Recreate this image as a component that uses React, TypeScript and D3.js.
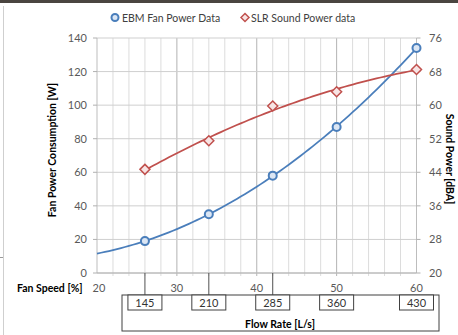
import React from "react";
import * as d3 from "d3";

const fanSpeed = [26, 34, 42, 50, 60];
const flowRate = ["145", "210", "285", "360", "430"];
const fanPower = [19, 35, 58, 87, 134];
const soundPower = [44.7, 51.5, 59.8, 63.2, 68.5];
const leftTicks = [0, 20, 40, 60, 80, 100, 120, 140];
const rightTicks = [20, 28, 36, 44, 52, 60, 68, 76];
const xTicks = [20, 30, 40, 50, 60];
const connectorCount = 3; // first three flow-rate boxes have connector lines

function quadFit(xs: number[], ys: number[]) {
  // least squares y = a + b x + c x^2
  const n = xs.length;
  let s = [0, 0, 0, 0, 0];
  let t = [0, 0, 0];
  for (let i = 0; i < n; i++) {
    const x = xs[i], y = ys[i];
    for (let k = 0; k < 5; k++) s[k] += Math.pow(x, k);
    for (let k = 0; k < 3; k++) t[k] += y * Math.pow(x, k);
  }
  const M = [
    [s[0], s[1], s[2], t[0]],
    [s[1], s[2], s[3], t[1]],
    [s[2], s[3], s[4], t[2]],
  ];
  for (let i = 0; i < 3; i++) {
    let p = i;
    for (let r = i + 1; r < 3; r++) if (Math.abs(M[r][i]) > Math.abs(M[p][i])) p = r;
    [M[i], M[p]] = [M[p], M[i]];
    for (let r = 0; r < 3; r++) {
      if (r === i) continue;
      const f = M[r][i] / M[i][i];
      for (let c = i; c < 4; c++) M[r][c] -= f * M[i][c];
    }
  }
  const a = M[0][3] / M[0][0], b = M[1][3] / M[1][1], c = M[2][3] / M[2][2];
  return (x: number) => a + b * x + c * x * x;
}

export default function App() {
  const W = 458, H = 335;
  const x0 = 97, x1 = 416.5, yTop = 38, yBot = 273;
  const x = d3.scaleLinear().domain([20, 60]).range([x0, x1]);
  const yL = d3.scaleLinear().domain([0, 140]).range([yBot, yTop]);
  const yR = d3.scaleLinear().domain([20, 76]).range([yBot, yTop]);

  const blueFit = quadFit(fanSpeed, fanPower);
  const redFit = quadFit(fanSpeed, soundPower);
  const blueXs = d3.range(20, 60.01, 0.5);
  const redXs = d3.range(fanSpeed[0], 60.01, 0.5);
  const blueLine = d3.line<number>().x((d) => x(d)).y((d) => yL(blueFit(d))).curve(d3.curveLinear)(blueXs) || "";
  const redLine = d3.line<number>().x((d) => x(d)).y((d) => yR(redFit(d)))(redXs) || "";

  const vGrid = d3.range(22, 60, 2);
  const blue = "#4A7EBB";
  const red = "#C0504D";
  const font = "Lato, 'Liberation Sans', sans-serif";
  const tickColor = "#595959";

  const boxTop = 295, boxH = 15, boxW = 34;
  const diamond = (cx: number, cy: number, r: number) =>
    `M${cx},${cy - r}L${cx + r},${cy}L${cx},${cy + r}L${cx - r},${cy}Z`;

  return (
    <svg width={W} height={H} style={{ position: "absolute", left: 0, top: 0, background: "#fff" }} fontFamily={font}>
      <rect x={0} y={0} width={W} height={3} fill="#4a4540" />
      <line x1={3.5} y1={6} x2={3.5} y2={H} stroke="#cfcfcf" />
      <line x1={0} y1={257.5} x2={3} y2={257.5} stroke="#999" />

      {/* grid */}
      {vGrid.map((g) => (
        <line key={"v" + g} x1={x(g)} x2={x(g)} y1={yTop} y2={yBot + 3}
          stroke={g % 10 === 0 ? "#b3b3b3" : "#dcdcdc"} strokeWidth={1} />
      ))}
      {leftTicks.map((t) => (
        <line key={"h" + t} x1={x0} x2={x1} y1={yL(t)} y2={yL(t)} stroke="#cfcfcf" strokeWidth={1} />
      ))}
      {/* axes */}
      <line x1={x0} x2={x0} y1={yTop} y2={yBot} stroke="#bdbdbd" />
      <line x1={x1} x2={x1} y1={yTop} y2={yBot} stroke="#bdbdbd" />
      <line x1={x0} x2={x1} y1={yBot} y2={yBot} stroke="#b0b0b0" />
      {leftTicks.map((t) => (
        <g key={"lt" + t}>
          <line x1={x0 - 4} x2={x0} y1={yL(t)} y2={yL(t)} stroke="#b0b0b0" />
          <text x={87} y={yL(t) + 4} textAnchor="end" fontSize={11} fill={tickColor}>{t}</text>
        </g>
      ))}
      {rightTicks.map((t) => (
        <g key={"rt" + t}>
          <line x1={x1} x2={x1 + 4} y1={yR(t)} y2={yR(t)} stroke="#b0b0b0" />
          <text x={429} y={yR(t) + 4} textAnchor="start" fontSize={11} fill={tickColor}>{t}</text>
        </g>
      ))}
      {xTicks.map((t) => (
        <text key={"xt" + t} x={x(t) + (t === 20 ? 2 : 0)} y={292} textAnchor="middle" fontSize={11} fill={tickColor}>{t}</text>
      ))}

      {/* axis titles */}
      <text x={17} y={292} fontSize={10.5} fontWeight="bold" fill="#000">Fan Speed [%]</text>
      <text transform={`translate(56,150) rotate(-90)`} textAnchor="middle" fontSize={10.5} fontWeight="bold" fill="#000">
        Fan Power Consumption [W]
      </text>
      <text transform={`translate(446,159) rotate(90)`} textAnchor="middle" fontSize={10.5} fontWeight="bold" fill="#000">
        Sound Power [dBA]
      </text>

      {/* flow rate table */}
      <rect x={122} y={boxTop} width={317} height={36} fill="none" stroke="#404040" strokeWidth={1} />
      {fanSpeed.map((s, i) => (
        <g key={"fr" + i}>
          {i < connectorCount && (
            <line x1={x(s)} x2={x(s)} y1={yBot} y2={boxTop} stroke="#505050" />
          )}
          <rect x={x(s) - boxW / 2} y={boxTop} width={boxW} height={boxH} fill="#fff" stroke="#404040" />
          <text x={x(s)} y={boxTop + 11.5} textAnchor="middle" fontSize={11} fill="#333">{flowRate[i]}</text>
        </g>
      ))}
      <text x={280} y={328} textAnchor="middle" fontSize={10.5} fontWeight="bold" fill="#000">Flow Rate [L/s]</text>

      {/* series */}
      <path d={blueLine} fill="none" stroke={blue} strokeWidth={1.75} />
      <path d={redLine} fill="none" stroke={red} strokeWidth={1.75} />
      {fanSpeed.map((s, i) => (
        <circle key={"b" + i} cx={x(s)} cy={yL(fanPower[i])} r={4} fill="#dbe6f4" stroke={blue} strokeWidth={2} />
      ))}
      {fanSpeed.map((s, i) => (
        <path key={"r" + i} d={diamond(x(s), yR(soundPower[i]), 5)} fill="#f7e4e4" stroke={red} strokeWidth={1.5} />
      ))}

      {/* legend */}
      <circle cx={115} cy={17.5} r={3.5} fill="#dbe6f4" stroke={blue} strokeWidth={2} />
      <text x={122} y={21.5} fontSize={10.5} fill="#404040">EBM Fan Power Data</text>
      <path d={diamond(245, 17.5, 4)} fill="#f7e4e4" stroke={red} strokeWidth={1.5} />
      <text x={251} y={21.5} fontSize={10.5} fill="#404040">SLR Sound Power data</text>
    </svg>
  );
}
